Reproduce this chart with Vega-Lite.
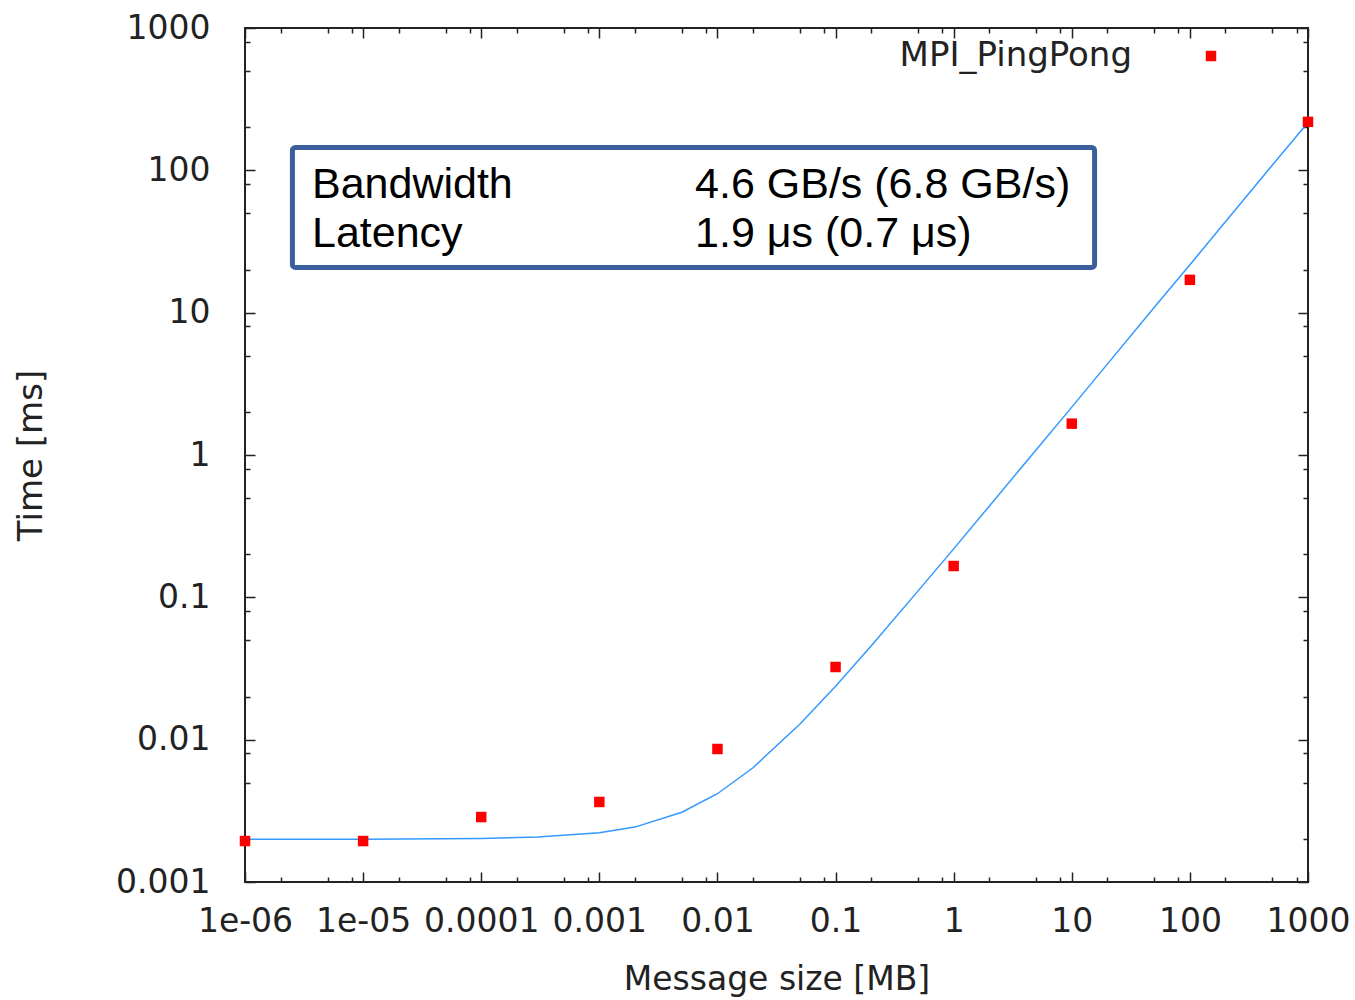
{
  "$schema": "https://vega.github.io/schema/vega-lite/v6.json",
  "width": 1063,
  "height": 854,
  "autosize": {"type": "none"},
  "padding": {"left": 245, "top": 28, "right": 47, "bottom": 118},
  "background": "white",
  "config": {
    "view": {"stroke": "#222222", "strokeWidth": 2},
    "axis": {
      "labelFont": "DejaVu Sans",
      "titleFont": "DejaVu Sans",
      "labelFontSize": 33,
      "titleFontSize": 33,
      "labelColor": "#222222",
      "titleColor": "#222222",
      "titleFontWeight": "normal",
      "tickColor": "#222222",
      "tickWidth": 1.5,
      "domain": false,
      "grid": false,
      "labelFlush": false,
      "labelOverlap": false
    }
  },
  "datasets": {
    "box": [{"x": 2.52e-6, "x2": 15.6, "y": 144.8, "y2": 20.8}],
    "notes": [
      {"x": 3.69e-6, "y": 63.9, "label": "Bandwidth"},
      {"x": 0.00646, "y": 63.9, "label": "4.6 GB/s (6.8 GB/s)"},
      {"x": 3.69e-6, "y": 29.1, "label": "Latency"},
      {"x": 0.00646, "y": 29.1, "label": "1.9 μs (0.7 μs)"}
    ],
    "fit": [
      {"x": 1e-6, "y": 0.002},
      {"x": 1e-5, "y": 0.002},
      {"x": 1e-4, "y": 0.00202},
      {"x": 3e-4, "y": 0.00207},
      {"x": 1e-3, "y": 0.00222},
      {"x": 2e-3, "y": 0.00243},
      {"x": 5e-3, "y": 0.00309},
      {"x": 1e-2, "y": 0.00417},
      {"x": 2e-2, "y": 0.00635},
      {"x": 5e-2, "y": 0.0129},
      {"x": 0.1, "y": 0.0237},
      {"x": 0.2, "y": 0.0455},
      {"x": 0.5, "y": 0.111},
      {"x": 1, "y": 0.219},
      {"x": 2, "y": 0.437},
      {"x": 5, "y": 1.09},
      {"x": 10, "y": 2.17},
      {"x": 20, "y": 4.35},
      {"x": 50, "y": 10.9},
      {"x": 100, "y": 21.7},
      {"x": 200, "y": 43.5},
      {"x": 500, "y": 109},
      {"x": 1000, "y": 217}
    ],
    "meas": [
      {"x": 1e-6, "y": 0.00194, "series": "MPI_PingPong"},
      {"x": 1e-5, "y": 0.00194, "series": "MPI_PingPong"},
      {"x": 1e-4, "y": 0.00286, "series": "MPI_PingPong"},
      {"x": 1e-3, "y": 0.00365, "series": "MPI_PingPong"},
      {"x": 1e-2, "y": 0.0086, "series": "MPI_PingPong"},
      {"x": 0.1, "y": 0.0324, "series": "MPI_PingPong"},
      {"x": 1, "y": 0.166, "series": "MPI_PingPong"},
      {"x": 10, "y": 1.66, "series": "MPI_PingPong"},
      {"x": 100, "y": 17.0, "series": "MPI_PingPong"},
      {"x": 1000, "y": 219, "series": "MPI_PingPong"}
    ]
  },
  "layer": [
    {
      "data": {"name": "box"},
      "mark": {"type": "rect", "fill": "white", "stroke": "#3b5f9c", "strokeWidth": 5, "cornerRadius": 3},
      "encoding": {
        "x": {
          "field": "x", "type": "quantitative",
          "scale": {"type": "log", "domain": [1e-6, 1000], "nice": false},
          "axis": {
            "orient": "bottom",
            "values": [1e-6, 1e-5, 0.0001, 0.001, 0.01, 0.1, 1, 10, 100, 1000],
            "labelExpr": "datum.value < 2e-6 ? '1e-06' : datum.value < 2e-5 ? '1e-05' : format(datum.value, '~g')",
            "tickSize": -10,
            "labelPadding": 33,
            "title": "Message size [MB]",
            "titlePadding": 25
          }
        },
        "x2": {"field": "x2"},
        "y": {
          "field": "y", "type": "quantitative",
          "scale": {"type": "log", "domain": [0.001, 1000], "nice": false},
          "axis": {
            "orient": "left",
            "values": [0.001, 0.01, 0.1, 1, 10, 100, 1000],
            "format": "~g",
            "tickSize": -10,
            "labelPadding": 45,
            "title": "Time [ms]",
            "titleFontSize": 34,
            "titlePadding": 67
          }
        },
        "y2": {"field": "y2"}
      }
    },
    {
      "data": {"name": "notes"},
      "mark": {"type": "text", "font": "Liberation Sans", "fontSize": 43, "align": "left", "baseline": "alphabetic", "color": "black"},
      "encoding": {
        "x": {
          "field": "x", "type": "quantitative",
          "scale": {"type": "log", "domain": [1e-6, 1000], "nice": false},
          "axis": {
            "orient": "top",
            "values": [1e-6, 1e-5, 0.0001, 0.001, 0.01, 0.1, 1, 10, 100, 1000],
            "labels": false,
            "tickSize": -10,
            "title": null
          }
        },
        "y": {
          "field": "y", "type": "quantitative",
          "scale": {"type": "log", "domain": [0.001, 1000], "nice": false},
          "axis": {
            "orient": "right",
            "values": [0.001, 0.01, 0.1, 1, 10, 100, 1000],
            "labels": false,
            "tickSize": -10,
            "title": null
          }
        },
        "text": {"field": "label"}
      }
    },
    {
      "data": {"name": "fit"},
      "mark": {"type": "line", "color": "#3399ff", "strokeWidth": 1.5},
      "encoding": {
        "x": {
          "field": "x", "type": "quantitative",
          "scale": {"type": "log", "domain": [1e-6, 1000], "nice": false},
          "axis": {
            "orient": "bottom",
            "values": [2e-6, 5e-6, 8e-6, 2e-5, 5e-5, 8e-5, 0.0002, 0.0005, 0.0008, 0.002, 0.005, 0.008, 0.02, 0.05, 0.08, 0.2, 0.5, 0.8, 2, 5, 8, 20, 50, 80, 200, 500, 800],
            "labels": false,
            "tickSize": -5,
            "title": null
          }
        },
        "y": {
          "field": "y", "type": "quantitative",
          "scale": {"type": "log", "domain": [0.001, 1000], "nice": false},
          "axis": {
            "orient": "left",
            "values": [0.002, 0.005, 0.008, 0.02, 0.05, 0.08, 0.2, 0.5, 0.8, 2, 5, 8, 20, 50, 80, 200, 500, 800],
            "labels": false,
            "tickSize": -5,
            "title": null
          }
        }
      }
    },
    {
      "data": {"name": "meas"},
      "mark": {"type": "point", "shape": "square", "filled": true, "size": 110, "opacity": 1},
      "encoding": {
        "x": {
          "field": "x", "type": "quantitative",
          "scale": {"type": "log", "domain": [1e-6, 1000], "nice": false},
          "axis": {
            "orient": "top",
            "values": [2e-6, 5e-6, 8e-6, 2e-5, 5e-5, 8e-5, 0.0002, 0.0005, 0.0008, 0.002, 0.005, 0.008, 0.02, 0.05, 0.08, 0.2, 0.5, 0.8, 2, 5, 8, 20, 50, 80, 200, 500, 800],
            "labels": false,
            "tickSize": -5,
            "title": null
          }
        },
        "y": {
          "field": "y", "type": "quantitative",
          "scale": {"type": "log", "domain": [0.001, 1000], "nice": false},
          "axis": {
            "orient": "right",
            "values": [0.002, 0.005, 0.008, 0.02, 0.05, 0.08, 0.2, 0.5, 0.8, 2, 5, 8, 20, 50, 80, 200, 500, 800],
            "labels": false,
            "tickSize": -5,
            "title": null
          }
        },
        "color": {
          "field": "series", "type": "nominal",
          "scale": {"range": ["#ff0000"]},
          "legend": {
            "orient": "none",
            "legendX": 949,
            "legendY": 11,
            "title": null,
            "padding": 0,
            "labelAlign": "right",
            "labelOffset": -96,
            "labelFont": "DejaVu Sans",
            "labelFontSize": 34,
            "labelColor": "#222222",
            "labelLimit": 400,
            "symbolType": "square",
            "symbolSize": 110,
            "symbolStrokeWidth": 0
          }
        }
      }
    }
  ],
  "resolve": {"axis": {"x": "independent", "y": "independent"}}
}
